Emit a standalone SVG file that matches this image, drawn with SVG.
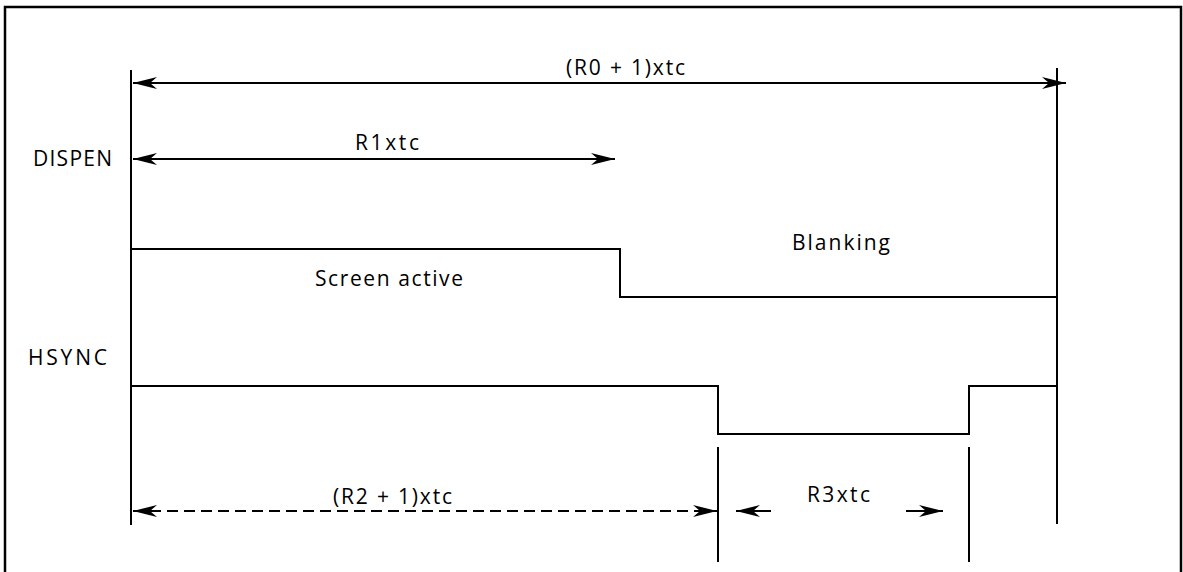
<svg xmlns="http://www.w3.org/2000/svg" width="1183" height="572" viewBox="0 0 1183 572">
<style>
.ln{stroke:#000;stroke-width:2;fill:none}
.fr{stroke:#000;stroke-width:2.5;fill:none}
.dash{stroke-dasharray:11 6}
text{font-family:"Open Sans","DejaVu Sans",sans-serif;font-size:21px;fill:#000}
</style>
<defs>
<marker id="ah" viewBox="0 0 24 12" refX="24" refY="6" markerWidth="24" markerHeight="12" markerUnits="userSpaceOnUse" orient="auto-start-reverse">
<path d="M0,0 L24,6 L0,12 L7,6 Z" fill="#000"/>
</marker>
</defs>
<rect width="1183" height="572" fill="#fff"/>
<g id="frame">
<polyline class="fr" points="5,572 5,7 1181,7 1181,572"/>
</g>
<g id="dispen">
<text x="33" y="166" textLength="79" lengthAdjust="spacing">DISPEN</text>
<polyline class="ln" points="131,249 620,249 620,297 1057,297"/>
<text x="315" y="286" textLength="148" lengthAdjust="spacing">Screen active</text>
<text x="792" y="250" textLength="98" lengthAdjust="spacing">Blanking</text>
</g>
<g id="hsync">
<text x="28" y="365" textLength="79" lengthAdjust="spacing">HSYNC</text>
<polyline class="ln" points="131,386 718,386 718,434 969,434 969,386 1057,386"/>
</g>
<g id="guides">
<line class="ln" x1="131" y1="70" x2="131" y2="525"/>
<line class="ln" x1="1057" y1="68" x2="1057" y2="524"/>
<line class="ln" x1="718" y1="447" x2="718" y2="562"/>
<line class="ln" x1="969" y1="447" x2="969" y2="562"/>
</g>
<g id="connectors">
<line class="ln" x1="133" y1="83" x2="1066" y2="83" marker-start="url(#ah)" marker-end="url(#ah)"/>
<line class="ln" x1="133" y1="159" x2="615" y2="159" marker-start="url(#ah)" marker-end="url(#ah)"/>
<line class="ln dash" x1="133" y1="511" x2="717" y2="511" marker-start="url(#ah)" marker-end="url(#ah)"/>
<line class="ln" x1="771" y1="511" x2="736" y2="511" marker-end="url(#ah)"/>
<line class="ln" x1="906" y1="511" x2="943" y2="511" marker-end="url(#ah)"/>
</g>
<g id="labels">
<text x="566" y="75" textLength="119" lengthAdjust="spacing">(R0 + 1)xtc</text>
<text x="355" y="150" textLength="64" lengthAdjust="spacing">R1xtc</text>
<text x="333" y="504" textLength="119" lengthAdjust="spacing">(R2 + 1)xtc</text>
<text x="807" y="502" textLength="63" lengthAdjust="spacing">R3xtc</text>
</g>
</svg>
